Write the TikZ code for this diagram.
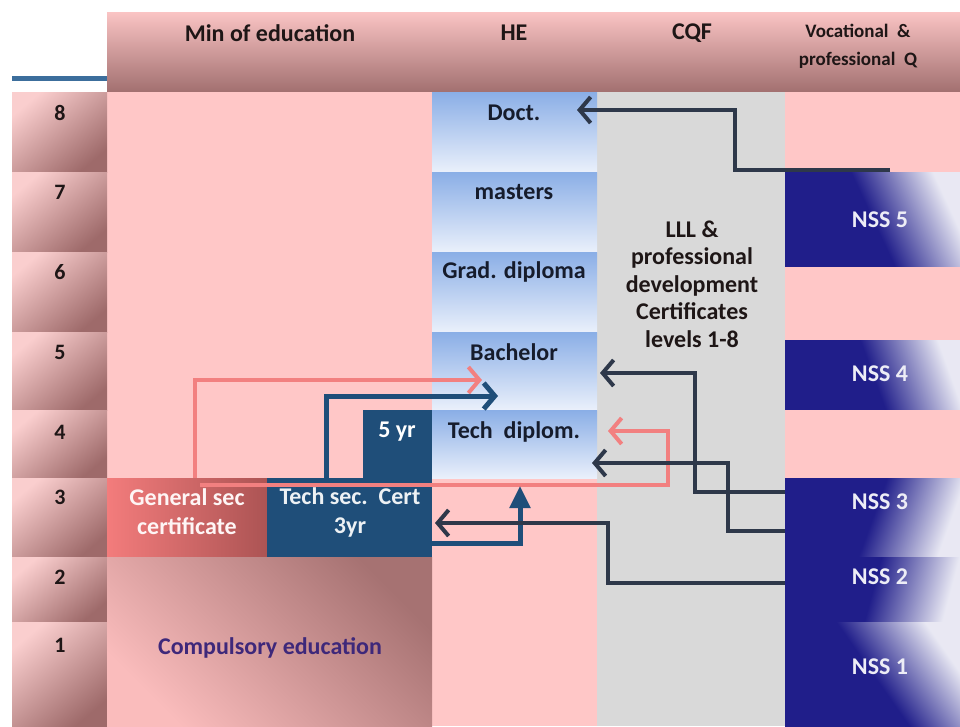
\documentclass[tikz,border=0pt]{standalone}
\usepackage{fontspec}
\setmainfont{Carlito}
\usetikzlibrary{arrows.meta}
\definecolor{pinkbg}{RGB}{255,199,199}
\definecolor{hdrtop}{RGB}{250,196,196}
\definecolor{hdrbot}{RGB}{162,112,112}
\definecolor{lvllight}{RGB}{250,206,206}
\definecolor{lvldark}{RGB}{158,106,106}
\definecolor{heblue}{RGB}{138,174,230}
\definecolor{hewhite}{RGB}{234,240,251}
\definecolor{cqfgrey}{RGB}{217,217,217}
\definecolor{nssblue}{RGB}{32,30,138}
\definecolor{techblue}{RGB}{31,78,121}
\definecolor{gentop}{RGB}{243,124,124}
\definecolor{genbot}{RGB}{172,84,84}
\definecolor{arrdark}{RGB}{46,56,74}
\definecolor{arrpink}{RGB}{242,128,128}
\definecolor{compcol}{RGB}{62,40,122}
\definecolor{linebl}{RGB}{60,110,156}
\definecolor{compdark}{RGB}{166,114,114}
\definecolor{complight}{RGB}{250,188,188}
\definecolor{txtdark}{RGB}{30,22,22}
\definecolor{hetxt}{RGB}{22,28,44}
\pgfdeclarehorizontalshading{nssshade}{100bp}{color(0bp)=(nssblue); color(25bp)=(nssblue); color(50bp)=(nssblue); color(75bp)=(white!90!nssblue); color(100bp)=(white!90!nssblue)}
\tikzset{
  zone/.style={draw=none, inner sep=0pt, outer sep=0pt, anchor=north west},
  lvl/.style={zone, minimum width=95, top color=lvllight, bottom color=lvldark, shading angle=40},
  hebox/.style={zone, minimum width=165, minimum height=80, top color=heblue, bottom color=hewhite},
  nss/.style={zone, minimum width=175, shading=nssshade},
  big/.style={font=\bfseries\fontsize{24}{28}\selectfont, inner sep=0pt, text=txtdark},
  hetext/.style={big, text=hetxt},
  wtext/.style={big, text=white, align=center},
  ntext/.style={big, text=white!92!nssblue},
  darkarr/.style={draw=arrdark, line width=4pt, -{Straight Barb[length=11pt,width=26pt]}},
  pinkarr/.style={draw=arrpink, line width=4pt, -{Straight Barb[length=11pt,width=26pt]}},
  bluearr/.style={draw=techblue, line width=5pt, -{Straight Barb[length=11pt,width=26pt]}},
  bluefill/.style={draw=techblue, line width=5pt, -{Triangle[length=22pt,width=20pt]}}
}
\begin{document}
\begin{tikzpicture}[x=1pt,y=-1pt]
\useasboundingbox[fill=white] (0,0) rectangle (960,726);
% header
\node[zone, minimum width=853, minimum height=80, top color=hdrtop, bottom color=hdrbot] (header) at (107,12) {};
\node[zone, minimum width=95, minimum height=5, fill=linebl] (hline) at (12,76) {};
% backgrounds
\node[zone, minimum width=490, minimum height=634, fill=pinkbg] (minbg) at (107,92) {};
\node[zone, minimum width=188, minimum height=634, fill=cqfgrey] (cqf) at (597,92) {};
\node[zone, minimum width=175, minimum height=634, fill=pinkbg] (vocbg) at (785,92) {};
% level boxes
\node[lvl, minimum height=80] (l8) at (12,92) {};
\node[lvl, minimum height=80] (l7) at (12,172) {};
\node[lvl, minimum height=80] (l6) at (12,252) {};
\node[lvl, minimum height=78] (l5) at (12,332) {};
\node[lvl, minimum height=68] (l4) at (12,410) {};
\node[lvl, minimum height=79] (l3) at (12,478) {};
\node[lvl, minimum height=65] (l2) at (12,557) {};
\node[lvl, minimum height=104] (l1) at (12,622) {};
% HE boxes
\node[hebox] (doct) at (432,92) {};
\node[hebox] (mast) at (432,172) {};
\node[hebox] (grad) at (432,252) {};
\node[hebox, minimum height=78] (bach) at (432,332) {};
\node[hebox, minimum height=68] (tdip) at (432,410) {};
% min of education boxes
\node[zone, minimum width=69, minimum height=68, fill=techblue] (fiveyr) at (363,410) {};
\node[zone, minimum width=160, minimum height=79, left color=gentop, right color=genbot] (gensec) at (107,478) {};
\node[zone, minimum width=165, minimum height=79, fill=techblue] (techsec) at (267,478) {};
\node[zone, minimum width=325, minimum height=169, top color=compdark, bottom color=complight, shading angle=-45] (comp) at (107,557) {};
% NSS boxes
\node[nss, minimum height=94, shading angle=25] (nss5) at (785,172) {};
\node[nss, minimum height=69, shading angle=20] (nss4) at (785,340) {};
\node[nss, minimum height=79, shading angle=-20] (nss3) at (785,478) {};
\node[nss, minimum height=66, shading angle=-15] (nss2) at (785,557) {};
\node[nss, minimum height=104, shading angle=35] (nss1) at (785,622) {};
% connectors
\coordinate (gsTop) at (195,478);
\coordinate (bachPink) at (482,380);
\draw[pinkarr] (gsTop) |- (bachPink);
\coordinate (pinkStart) at (200,485);
\coordinate (tdipPink) at (608,431);
\draw[pinkarr] (pinkStart) -- (668,485) |- (tdipPink);
\coordinate (tsTop) at (326,478);
\coordinate (bachBlue) at (498,396);
\draw[bluearr] (tsTop) |- (bachBlue);
\coordinate (tsRight) at (432,543);
\coordinate (upTip) at (520,486);
\draw[bluefill] (tsRight) -| (upTip);
\coordinate (n5s) at (890,170);
\coordinate (doctIn) at (577,110);
\draw[darkarr] (n5s) -| (735,110) -- (doctIn);
\coordinate (n3a) at (785,492);
\coordinate (bachIn) at (600,373);
\draw[darkarr] (n3a) -| (695,373) -- (bachIn);
\coordinate (n3b) at (785,531);
\coordinate (tdipIn) at (592,463);
\draw[darkarr] (n3b) -| (728,463) -- (tdipIn);
\coordinate (n2a) at (785,583);
\coordinate (tsIn) at (435,523);
\draw[darkarr] (n2a) -| (608,523) -- (tsIn);
% header texts
\node[big] (hmin) at (270,33) {Min of education};
\node[big] (hhe) at (514,33) {HE};
\node[big] (hcqf) at (692,33) {CQF};
\node[big, font=\bfseries\fontsize{19}{28}\selectfont, align=center] (hvoc) at (858,46) {Vocational~~\&\\professional~~Q};
% level numbers
\node[big, font=\bfseries\fontsize{22}{26}\selectfont] (t8) at (60,113) {8};
\node[big, font=\bfseries\fontsize{22}{26}\selectfont] (t7) at (60,192) {7};
\node[big, font=\bfseries\fontsize{22}{26}\selectfont] (t6) at (60,272) {6};
\node[big, font=\bfseries\fontsize{22}{26}\selectfont] (t5) at (60,352) {5};
\node[big, font=\bfseries\fontsize{22}{26}\selectfont] (t4) at (60,432) {4};
\node[big, font=\bfseries\fontsize{22}{26}\selectfont] (t3) at (60,497) {3};
\node[big, font=\bfseries\fontsize{22}{26}\selectfont] (t2) at (60,577) {2};
\node[big, font=\bfseries\fontsize{22}{26}\selectfont] (t1) at (60,645) {1};
% HE texts
\node[hetext] (tdoct) at (514,113) {Doct.};
\node[hetext] (tmast) at (514,192) {masters};
\node[hetext] (tgrad) at (514,272) {Grad. diploma};
\node[hetext] (tbach) at (514,352) {Bachelor};
\node[hetext] (ttdip) at (514,432) {Tech~~diplom.};
% CQF text
\node[big, align=center, font=\bfseries\fontsize{24}{27.5}\selectfont] (tcqf) at (692,284) {LLL \&\\professional\\development\\Certificates\\levels 1-8};
% boxes texts
\node[wtext] (t5yr) at (397,432) {5 yr};
\node[wtext, text=white!92!gentop, font=\bfseries\fontsize{24}{29}\selectfont] (tgen) at (187,512) {General sec\\certificate};
\node[wtext, text=white!92!techblue, font=\bfseries\fontsize{24}{29}\selectfont] (ttech) at (350,512) {Tech sec.~~Cert\\3yr};
\node[big, text=compcol] (tcomp) at (270,648) {Compulsory education};
% NSS texts
\node[ntext] (tn5) at (880,220) {NSS 5};
\node[ntext] (tn4) at (880,374) {NSS 4};
\node[ntext] (tn3) at (880,502) {NSS 3};
\node[ntext] (tn2) at (880,577) {NSS 2};
\node[ntext] (tn1) at (880,667) {NSS 1};
\end{tikzpicture}
\end{document}
